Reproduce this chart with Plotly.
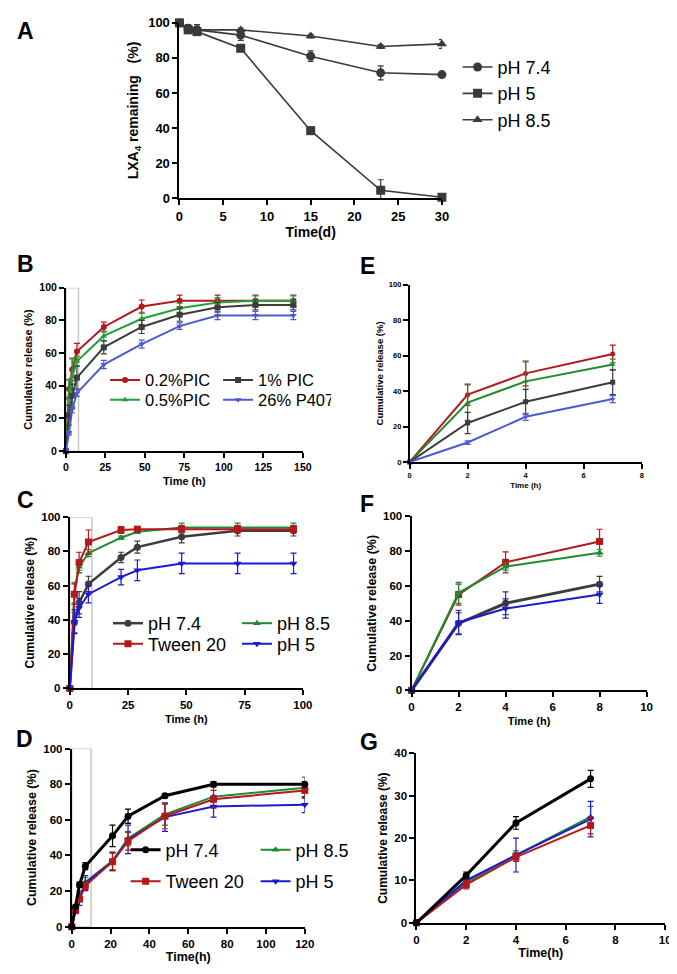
import plotly.graph_objects as go

W, H = 677, 974

# ---------------- DATA ----------------
A_days = [0, 1, 2, 7, 15, 23, 30]
A_ph74 = [100, 97, 96, 93, 81, 71.5, 70.5]
A_ph74_err = [1, 2, 3, 3, 3, 4, 1]
A_ph5 = [100, 96, 95, 85.5, 38.5, 4.5, 0.5]
A_ph5_err = [1, 2, 2, 1.5, 2, 6, 1]
A_ph85 = [100, 97, 96, 96, 92.5, 86.5, 88]
A_ph85_err = [1, 1, 2, 1, 1, 1, 2.5]

B_time = [0, 2, 4, 7, 24, 48, 72, 96, 120, 144]
B_pic02 = [0, 38, 50, 61, 76, 88.5, 92, 92, 92, 92]
B_pic02_err = [0, 6, 7, 5, 3, 4, 3.5, 3.5, 3.5, 3.5]
B_pic05 = [0, 33.5, 45.5, 55, 70.5, 81, 87.5, 91, 92, 92]
B_pic05_err = [0, 10, 11, 3, 3, 4, 3, 3, 3, 3]
B_pic1 = [0, 22, 34, 45, 63.5, 76, 83.5, 88, 89.5, 89.5]
B_pic1_err = [0, 6, 7, 7, 4, 4, 4, 3, 3, 3]
B_p407 = [0, 11, 25.5, 35.5, 53, 65.5, 76.5, 83, 83, 83]
B_p407_err = [0, 1, 2, 2, 2.5, 2.5, 2, 2.5, 2.5, 2.5]
E_npts = 4  # panel E shows the first points of B (0-7 h)

C_time = [0, 2, 4, 8, 22, 29, 48, 72, 96]
C_ph74 = [0, 38.5, 50, 61, 76.5, 82.5, 88.5, 92, 92]
C_ph74_err = [0, 6, 6.5, 4.5, 3, 3.5, 3.5, 3, 3]
C_tween = [0, 55, 73.5, 85.5, 92.5, 93, 93, 93, 93]
C_tween_err = [0, 6, 6, 7, 2, 1, 2, 2, 2]
C_ph85 = [0, 56, 71, 79, 88, 91.5, 94, 94, 94]
C_ph85_err = [0, 6, 2, 2, 1, 1, 2.5, 2.5, 2.5]
C_ph5 = [0, 39, 47, 55, 65, 69, 73, 73, 73]
C_ph5_err = [0, 7, 5.5, 5, 4.5, 6, 6, 6, 6]
F_npts = 4

D_time = [0, 2, 4, 7, 21, 29, 48, 73, 120]
D_ph74 = [0, 11.2, 23.6, 34, 51, 62, 73.5, 80, 80]
D_ph74_err = [0, 0.8, 1.5, 2, 6, 4, 1, 1.5, 1.5]
D_tween = [0, 9, 15.5, 23, 36.5, 48, 62, 71.5, 76.5]
D_tween_err = [0, 1, 1, 2, 5, 5, 7, 5, 4]
D_ph85 = [0, 9.5, 16, 25, 37, 49.5, 63, 73, 78]
D_ph85_err = [0, 1, 1, 2.5, 5, 4, 6, 6, 6]
D_ph5 = [0, 10, 16, 24.5, 36.5, 49, 61.5, 67.5, 68.5]
D_ph5_err = [0, 1, 4, 4.2, 5, 8, 8, 6, 4.5]
G_npts = 4

# ---------------- STYLE ----------------
FONT = "Liberation Sans, Arial, sans-serif"
RED = "#b3191c"
GREEN = "#1f8a2e"
GREEN_B = "#24a03a"
GREY = "#3c3c3c"
BLUE_B = "#4c5ad0"
BLUE = "#1a1ad2"
BLACK = "#000000"
AGREY = "#3a3a3a"


def px_x(p):
    return p / W


def px_y(p):
    return 1 - p / H


fig = go.Figure()
layout = dict(
    width=W, height=H, margin=dict(l=0, r=0, t=0, b=0),
    paper_bgcolor="white", plot_bgcolor="white",
    font=dict(family=FONT, color="black"),
    shapes=[], annotations=[],
)


def make_axes(n, x0, x1, y0, y1, xr, xdt, yr, ydt, tsize, ytitle, ysize, ystand,
              xtitle, xsize, xstand, lw=2):
    xa = "xaxis" if n == 1 else f"xaxis{n}"
    ya = "yaxis" if n == 1 else f"yaxis{n}"
    s = "" if n == 1 else str(n)
    common = dict(showline=True, linecolor="black", linewidth=lw, ticks="outside",
                  ticklen=5, tickwidth=lw, tickcolor="black", showgrid=False,
                  zeroline=False, tickfont=dict(family=FONT, size=tsize, weight="bold"))
    layout[xa] = dict(domain=[px_x(x0), px_x(x1)], range=xr, dtick=xdt, tick0=0,
                      anchor="y" + s,
                      title=dict(text=xtitle, font=dict(family=FONT, size=xsize, weight="bold"),
                                 standoff=xstand), **common)
    layout[ya] = dict(domain=[px_y(y1), px_y(y0)], range=yr, dtick=ydt, tick0=0,
                      anchor="x" + s,
                      title=dict(text=ytitle, font=dict(family=FONT, size=ysize, weight="bold"),
                                 standoff=ystand), **common)


def add_series(n, x, y, err, color, symbol, name, msize, lwidth, legend=None,
               rank=None, group=None):
    s = "" if n == 1 else str(n)
    fig.add_trace(go.Scatter(
        x=x, y=y, mode="lines+markers", name=name,
        line=dict(color=color, width=lwidth),
        marker=dict(color=color, symbol=symbol, size=msize),
        error_y=dict(type="data", array=err, visible=True, color=color,
                     thickness=1.2, width=3),
        xaxis="x" + s, yaxis="y" + s,
        showlegend=legend is not None, legend=legend or "legend",
        legendrank=rank if rank is not None else 1000,
        legendgroup=group, cliponaxis=False,
    ))


# ---------------- PANEL A ----------------
make_axes(1, 171, 439, 8, 186, [0, 30], 5, [0, 100], 20, 13,
          "LXA<sub>4</sub> remaining   (%)", 14, 6, "Time(d)", 14, 3, lw=2)
add_series(1, A_days, A_ph74, A_ph74_err, AGREY, "circle", "pH 7.4", 9, 1.6, "legend", 1, "a1")
add_series(1, A_days, A_ph5, A_ph5_err, AGREY, "square", "pH 5", 9, 1.6, "legend", 2, "a2")
add_series(1, A_days, A_ph85, A_ph85_err, AGREY, "triangle-up", "pH 8.5", 9, 1.6, "legend", 3, "a3")

# ---------------- PANEL B ----------------
make_axes(2, 55, 297, 277, 443, [0, 150], 25, [0, 100], 20, 10.5,
          "Cumulative release (%)", 11, 4, "Time (h)", 11, 6, lw=1.8)
add_series(2, B_time, B_pic02, B_pic02_err, RED, "circle", "0.2%PIC", 6, 2, "legend2", 1)
add_series(2, B_time, B_pic05, B_pic05_err, GREEN_B, "triangle-up", "0.5%PIC", 6, 2, "legend3", 1)
add_series(2, B_time, B_pic1, B_pic1_err, GREY, "square", "1% PIC", 6, 2, "legend2", 2)
add_series(2, B_time, B_p407, B_p407_err, BLUE_B, "triangle-down", "26% P407", 6, 2, "legend3", 2)

# ---------------- PANEL E ----------------
make_axes(3, 406, 643, 274, 454, [0, 8], 2, [0, 100], 20, 7.5,
          "Cumulative release (%)", 9.5, 4, "Time (h)", 8, 4, lw=1.5)
k = E_npts
add_series(3, B_time[:k], B_pic02[:k], B_pic02_err[:k], RED, "circle", "0.2%PIC", 5, 2)
add_series(3, B_time[:k], B_pic05[:k], B_pic05_err[:k], GREEN, "triangle-up", "0.5%PIC", 5, 2)
add_series(3, B_time[:k], B_pic1[:k], B_pic1_err[:k], GREY, "square", "1% PIC", 5, 2)
add_series(3, B_time[:k], B_p407[:k], B_p407_err[:k], BLUE_B, "triangle-down", "26% P407", 5, 2)

# ---------------- PANEL C ----------------
make_axes(4, 59, 297, 510, 684, [0, 100], 25, [0, 100], 20, 11.5,
          "Cumulative release (%)", 12, 4, "Time (h)", 11, 5, lw=2)
add_series(4, C_time, C_ph74, C_ph74_err, GREY, "circle", "pH 7.4", 7, 2.5, "legend4", 1)
add_series(4, C_time, C_ph85, C_ph85_err, GREEN, "triangle-up", "pH 8.5", 7, 2, "legend4", 2)
add_series(4, C_time, C_tween, C_tween_err, RED, "square", "Tween 20", 7, 2, "legend5", 1)
add_series(4, C_time, C_ph5, C_ph5_err, BLUE, "triangle-down", "pH 5", 7, 2, "legend5", 2)

# ---------------- PANEL F ----------------
make_axes(5, 408, 648, 509, 686, [0, 10], 2, [0, 100], 20, 11.5,
          "Cumulative release (%)", 12.5, 4, "Time (h)", 11, 5, lw=2)
k = F_npts
add_series(5, C_time[:k], C_tween[:k], C_tween_err[:k], RED, "square", "Tween 20", 7, 2)
add_series(5, C_time[:k], C_ph85[:k], C_ph85_err[:k], GREEN, "triangle-up", "pH 8.5", 7, 2)
add_series(5, C_time[:k], C_ph74[:k], C_ph74_err[:k], GREY, "circle", "pH 7.4", 7, 3)
add_series(5, C_time[:k], C_ph5[:k], C_ph5_err[:k], BLUE, "triangle-down", "pH 5", 7, 2)

# ---------------- PANEL D ----------------
make_axes(6, 61, 299, 745, 926, [0, 120], 20, [0, 100], 20, 11.5,
          "Cumulative release (%)", 12.5, 4, "Time(h)", 12.5, 4, lw=2)
add_series(6, D_time, D_ph85, D_ph85_err, GREEN, "triangle-up", "pH 8.5", 7, 2, "legend6", 2)
add_series(6, D_time, D_ph5, D_ph5_err, BLUE, "triangle-down", "pH 5", 7, 2, "legend7", 2)
add_series(6, D_time, D_tween, D_tween_err, RED, "square", "Tween 20", 7, 2, "legend7", 1)
add_series(6, D_time, D_ph74, D_ph74_err, BLACK, "circle", "pH 7.4", 7, 3, "legend6", 1)

# ---------------- PANEL G ----------------
make_axes(7, 413, 667, 750, 922, [0, 10], 2, [0, 40], 10, 11.5,
          "Cumulative release (%)", 12, 4, "Time(h)", 12.5, 4, lw=2)
k = G_npts
add_series(7, D_time[:k], D_ph85[:k], D_ph85_err[:k], GREEN, "triangle-up", "pH 8.5", 7, 2)
add_series(7, D_time[:k], D_ph5[:k], D_ph5_err[:k], BLUE, "triangle-down", "pH 5", 7, 2)
add_series(7, D_time[:k], D_tween[:k], D_tween_err[:k], RED, "square", "Tween 20", 7, 2)
add_series(7, D_time[:k], D_ph74[:k], D_ph74_err[:k], BLACK, "circle", "pH 7.4", 7, 3)

# zoom-window boxes (light grey) in B, C, D
for ax, xmax in (("2", B_time[3] + 1), ("4", 9.5), ("6", 10)):
    layout["shapes"].append(dict(type="rect", xref="x" + ax, yref="y" + ax,
                                 x0=0, x1=xmax, y0=0, y1=100,
                                 line=dict(color="#c8c8c8", width=1.5), layer="below"))

# ---------------- LEGENDS ----------------
def leg(xp, yp, size, orient="v", entrywidth=None, gap=0):
    d = dict(x=px_x(xp), y=px_y(yp), xanchor="left", yanchor="middle",
             orientation=orient, bgcolor="rgba(0,0,0,0)", borderwidth=0,
             font=dict(family=FONT, size=size, color="black"),
             itemwidth=30, tracegroupgap=gap, traceorder="normal")
    if entrywidth:
        d["entrywidth"] = entrywidth
        d["entrywidthmode"] = "pixels"
    return d

layout["legend"] = leg(455, 80, 18, gap=8)
layout["legend2"] = leg(95, 371, 16.5, "h", 68)
layout["legend3"] = leg(95, 391, 16.5, "h", 68)
layout["legend4"] = leg(98, 618, 18, "h", 84)
layout["legend5"] = leg(98, 639, 18, "h", 84)
layout["legend6"] = leg(116, 848, 18, "h", 85)
layout["legend7"] = leg(116, 880, 18, "h", 85)

# ---------------- PANEL LETTERS ----------------
for letter, xp, yp in (("A", 14, 16), ("B", 14, 253), ("E", 363, 255), ("C", 14, 493),
                       ("F", 363, 497), ("D", 13, 735), ("G", 365, 738)):
    layout["annotations"].append(dict(text=letter, x=px_x(xp), y=px_y(yp), xref="paper",
                                      yref="paper", xanchor="center", yanchor="middle",
                                      showarrow=False,
                                      font=dict(family=FONT, size=23, weight="bold")))

fig.update_layout(**layout)
fig.write_html("out.html")
